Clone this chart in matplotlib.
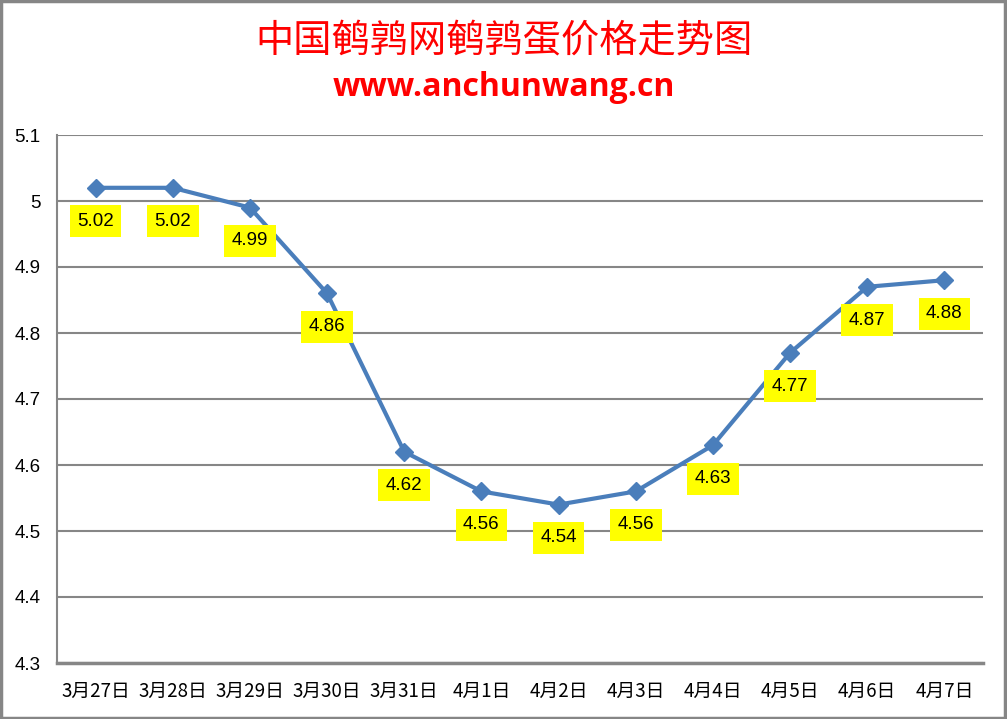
import matplotlib
matplotlib.use("Agg")
from matplotlib import pyplot as plt
from matplotlib.patches import Rectangle

plt.rcParams['font.family'] = ['Noto Sans CJK SC', 'DejaVu Sans']

dates = ['3月27日', '3月28日', '3月29日', '3月30日', '3月31日', '4月1日',
         '4月2日', '4月3日', '4月4日', '4月5日', '4月6日', '4月7日']
prices = [5.02, 5.02, 4.99, 4.86, 4.62, 4.56, 4.54, 4.56, 4.63, 4.77, 4.87, 4.88]
y_ticks = [4.3, 4.4, 4.5, 4.6, 4.7, 4.8, 4.9, 5.0, 5.1]
y_tick_labels = ['4.3', '4.4', '4.5', '4.6', '4.7', '4.8', '4.9', '5', '5.1']


def main():
    fig = plt.figure(figsize=(10.07, 7.19), dpi=100)
    ax = fig.add_axes([57 / 1007, 1 - 663 / 719, (983 - 57) / 1007, (663 - 135) / 719])

    x = list(range(len(dates)))
    ax.plot(x, prices, color='#4A7EBB', linewidth=3, marker='D', markersize=9,
            markerfacecolor='#4A7EBB', markeredgecolor='#4A7EBB', zorder=3)

    for xi, p in zip(x, prices):
        ax.annotate(f'{p:.2f}', (xi, p), xytext=(0, -24), textcoords='offset points',
                    ha='center', va='center', fontsize=13.5, family=['Liberation Sans', 'DejaVu Sans'],
                    bbox=dict(boxstyle='square,pad=0.4', facecolor='#FFFF00', edgecolor='none'),
                    zorder=4)

    ax.set_xlim(-0.5, len(dates) - 0.5)
    ax.set_ylim(4.3, 5.1)
    ax.set_yticks(y_ticks)
    ax.set_yticklabels(y_tick_labels, fontsize=13.5, family=['Liberation Sans', 'DejaVu Sans'])
    ax.set_xticks(x)
    ax.set_xticklabels(dates, fontsize=13.5)
    ax.tick_params(length=0, pad=12)
    ax.tick_params(axis='x', pad=13)
    ax.grid(axis='y', color='#868686', linewidth=1.5)
    for side in ['top', 'right']:
        ax.spines[side].set_visible(False)
    ax.spines['left'].set_color('#868686')
    ax.spines['left'].set_linewidth(1.5)
    ax.spines['bottom'].set_color('#868686')
    ax.spines['bottom'].set_linewidth(2.5)

    fig.text(0.5, 1 - 41 / 719, '中国鹌鹑网鹌鹑蛋价格走势图', ha='center', va='center',
             color='#FF0000', fontsize=27.5)
    fig.text(0.5, 1 - 88 / 719, 'www.anchunwang.cn', ha='center', va='center',
             color='#FF0000', fontsize=23, fontweight='bold', family='Open Sans')

    fig.patches.append(Rectangle((0.001, 0.001), 0.997, 0.997, transform=fig.transFigure,
                                 fill=False, edgecolor='#868686', linewidth=2.5))

    fig.savefig('out.png', dpi=100)


if __name__ == "__main__":
    main()
